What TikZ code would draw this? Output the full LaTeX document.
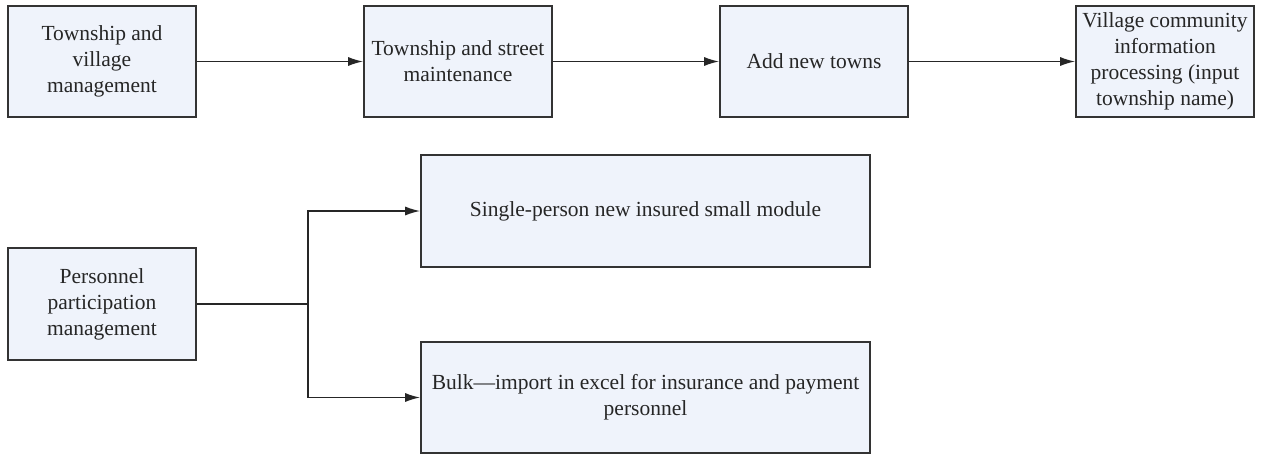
\documentclass[tikz,border=0pt]{standalone}
\usepackage{fontspec}
\setmainfont{Liberation Serif}
\usetikzlibrary{arrows.meta}
\definecolor{boxfill}{HTML}{EFF3FB}
\definecolor{boxline}{HTML}{333333}
\begin{document}
\begin{tikzpicture}[x=1pt,y=-1pt,
  procbox/.style={draw=boxline,line width=1.6pt,fill=boxfill,inner sep=0pt,
    align=center,font=\fontsize{21.5}{26}\selectfont,text=black!85},
  flow/.style={draw=black!85,line width=1.6pt,-{Latex[length=15pt,width=9pt]}},
  plain/.style={draw=black!85,line width=1.6pt}]
\useasboundingbox (0,0) rectangle (1265,455);
% top row
\node[procbox,minimum width=188pt,minimum height=111pt] (tv) at (102,61.5) {Township and\\village\\management};
\node[procbox,minimum width=188pt,minimum height=111pt] (ts) at (458,61.5) {Township and street\\maintenance};
\node[procbox,minimum width=188pt,minimum height=111pt] (an) at (814,61.5) {Add new towns};
\node[procbox,minimum width=178pt,minimum height=111pt] (vc) at (1165,61.5) {Village community\\information\\processing (input\\township name)};
\draw[flow] (tv) -- (ts);
\draw[flow] (ts) -- (an);
\draw[flow] (an) -- (vc);
% lower part
\node[procbox,minimum width=449pt,minimum height=112pt] (sp) at (645.5,211) {Single-person new insured small module};
\node[procbox,minimum width=188pt,minimum height=112pt] (pp) at (102,304) {Personnel\\participation\\management};
\node[procbox,minimum width=449pt,minimum height=111pt] (bk) at (645.5,397.5) {Bulk---import in excel for insurance and payment\\personnel};
\coordinate (fork) at (308,304);
\draw[plain] (pp.east) -- (fork);
\draw[flow] (fork) |- (sp.west);
\draw[flow] (fork) |- (bk.west);
\end{tikzpicture}
\end{document}
